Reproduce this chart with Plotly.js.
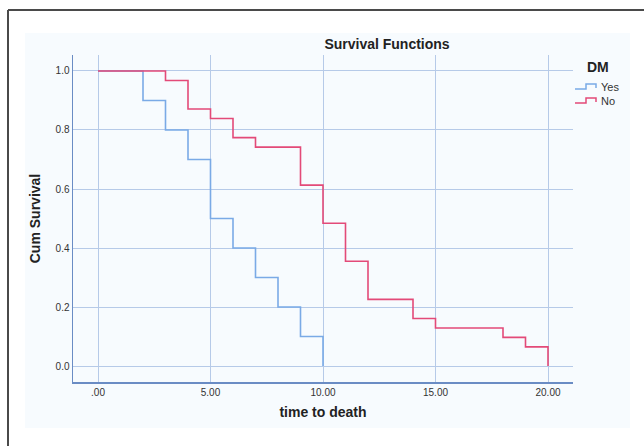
<!DOCTYPE html>
<html>
<head>
<meta charset="utf-8">
<script src="https://cdn.plot.ly/plotly-3.0.1.min.js"></script>
<style>html,body{margin:0;padding:0;background:#fff;}#chart{width:644px;height:446px;}</style>
</head>
<body>
<div id="chart"></div>
<script>
// Data
const seriesNames = ['Yes', 'No'];
const seriesColors = ['#7AAAE6', '#E34A78'];
const yesTime = [0, 2, 3, 4, 5, 6, 7, 8, 9, 10];
const yesSurv = [1.0, 0.9, 0.8, 0.7, 0.5, 0.4, 0.3, 0.2, 0.1, 0.0];
const noTime = [0, 3, 4, 5, 6, 7, 9, 10, 11, 12, 14, 15, 18, 19, 20];
const noSurv = [1.0, 0.968, 0.871, 0.839, 0.774, 0.742, 0.613, 0.484, 0.355, 0.226, 0.161, 0.129, 0.097, 0.065, 0.0];
const xTickVals = [0, 5, 10, 15, 20];
const xTickText = ['.00', '5.00', '10.00', '15.00', '20.00'];
const yTickVals = [0, 0.2, 0.4, 0.6, 0.8, 1.0];
const yTickText = ['0.0', '0.2', '0.4', '0.6', '0.8', '1.0'];

const W = 644, H = 446;
const ML = 73, MR = 71, MT = 55, MB = 64;
const PW = W - ML - MR, PH = H - MT - MB;
const px = v => (v - ML) / PW;
const py = v => 1 - (v - MT) / PH;
const font = 'Arial, "Liberation Sans", sans-serif';
const gridC = '#B6CAE8';
const axisC = '#6A8CC4';

const traces = [
  {x: yesTime, y: yesSurv, name: seriesNames[0], mode: 'lines', line: {shape: 'hv', color: seriesColors[0], width: 1.6}},
  {x: noTime, y: noSurv, name: seriesNames[1], mode: 'lines', line: {shape: 'hv', color: seriesColors[1], width: 1.6}}
];

const shapes = [
  {type: 'rect', xref: 'paper', yref: 'paper', layer: 'below',
   x0: px(25), x1: px(630), y0: py(428), y1: py(33),
   fillcolor: '#F7FBFE', line: {width: 0}},
  {type: 'line', xref: 'paper', yref: 'paper', x0: px(8), x1: px(644),
   y0: py(10), y1: py(10), line: {color: '#4a4a4a', width: 2}},
  {type: 'line', xref: 'paper', yref: 'paper', x0: px(8), x1: px(8),
   y0: py(10), y1: py(446), line: {color: '#4a4a4a', width: 2}}
];
const annotations = [
  {text: '<b>DM</b>', xref: 'paper', yref: 'paper', x: px(598), y: py(67),
   xanchor: 'center', yanchor: 'middle', showarrow: false, font: {size: 14, color: '#222', family: font}}
];
// custom legend with step-shaped icons
seriesNames.forEach((nm, i) => {
  const yc = 87 + i * 14;
  const low = yc + 2, high = yc - 3;
  const path = 'M ' + px(575) + ' ' + py(low) + ' L ' + px(586) + ' ' + py(low) +
               ' L ' + px(586) + ' ' + py(high) + ' L ' + px(596) + ' ' + py(high) +
               ' L ' + px(596) + ' ' + py(low - 1);
  shapes.push({type: 'path', xref: 'paper', yref: 'paper', path: path,
               line: {color: seriesColors[i], width: 1.5}});
  annotations.push({text: nm, xref: 'paper', yref: 'paper', x: px(599), y: py(yc),
    xanchor: 'left', yanchor: 'middle', showarrow: false,
    font: {size: 11, color: '#333', family: font}});
});

const layout = {
  width: W, height: H,
  margin: {l: ML, r: MR, t: MT, b: MB, pad: 0, autoexpand: false},
  paper_bgcolor: '#ffffff',
  plot_bgcolor: 'rgba(0,0,0,0)',
  font: {family: font, color: '#333'},
  title: {text: '<b>Survival Functions</b>', font: {size: 14, color: '#222', family: font},
          x: 387 / W, xanchor: 'center', xref: 'container', y: 1 - 44 / H, yanchor: 'middle', yref: 'container'},
  xaxis: {
    range: [-1.111, 21.111], tickvals: xTickVals, ticktext: xTickText,
    showgrid: true, gridcolor: gridC, gridwidth: 1, zeroline: false,
    showline: true, linecolor: axisC, linewidth: 1.5,
    ticks: '', tickfont: {size: 10, color: '#333', family: font},
    title: {text: '<b>time to death</b>', font: {size: 14, color: '#222', family: font}, standoff: 10}
  },
  yaxis: {
    range: [-0.0542, 1.0542], tickvals: yTickVals, ticktext: yTickText,
    showgrid: true, gridcolor: gridC, gridwidth: 1, zeroline: false,
    showline: true, linecolor: axisC, linewidth: 1.5,
    ticks: '', tickfont: {size: 10, color: '#333', family: font},
    title: {text: '<b>Cum Survival</b>', font: {size: 14, color: '#222', family: font}, standoff: 11}
  },
  showlegend: false,
  annotations: annotations,
  shapes: shapes
};

Plotly.newPlot('chart', traces, layout, {staticPlot: true, displayModeBar: false});
</script>
</body>
</html>
